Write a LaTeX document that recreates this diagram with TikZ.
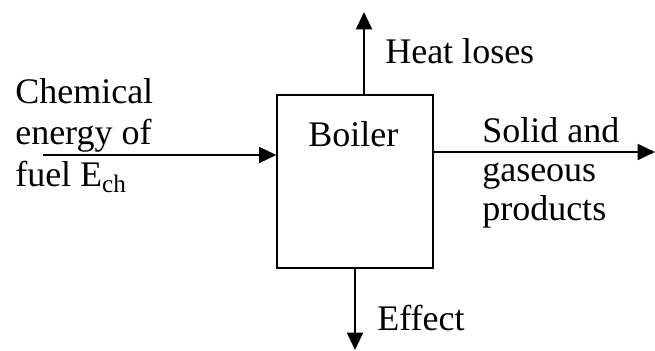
\documentclass[tikz,border=0pt]{standalone}
\usepackage{fontspec}
\setmainfont{Liberation Serif}
\usetikzlibrary{arrows.meta}
\tikzset{
  flow/.style={line width=1.4pt,-{Triangle[length=13pt,width=12pt]}},
  label/.style={inner sep=0pt,anchor=base west,align=left,font=\fontsize{27}{31}\selectfont},
  boilerbox/.style={draw,line width=1pt,minimum width=117pt,minimum height=129.75pt,inner sep=0pt}
}
\begin{document}
\begin{tikzpicture}[x=0.75pt,y=0.75pt,yscale=-1,xscale=1]
                \useasboundingbox (0,0) rectangle (655,350);
                % Boiler
                \node [boilerbox] (boiler) at (355,181.5) {};
                \node [label] (boilertext) at (308,146) {Boiler};
                % free ends of the flows
                \coordinate (fuelin) at (43,155);
                \coordinate (heatout) at (364,12);
                \coordinate (prodout) at (655,152);
                \coordinate (effectout) at (355,350);
                % Flows
                \draw [flow] (fuelin) -- (fuelin -| boiler.west);
                \draw [flow] (heatout |- boiler.north) -- (heatout);
                \draw [flow] (prodout -| boiler.east) -- (prodout);
                \draw [flow] (effectout |- boiler.south) -- (effectout);
                % Text Node (anchored at its last line)
                \node [label] (fueltext) at (15,186) {Chemical\\energy of\\fuel E\textsubscript{ch}};
                % Text Node
                \node [label] (heattext) at (385,63) {Heat loses};
                % Text Node (anchored at its last line)
                \node [label,font=\fontsize{27}{29}\selectfont] (prodtext) at (482,220) {Solid and\\gaseous\\products};
                % Text Node
                \node [label] (effecttext) at (377,330) {Effect};
\end{tikzpicture}
\end{document}
